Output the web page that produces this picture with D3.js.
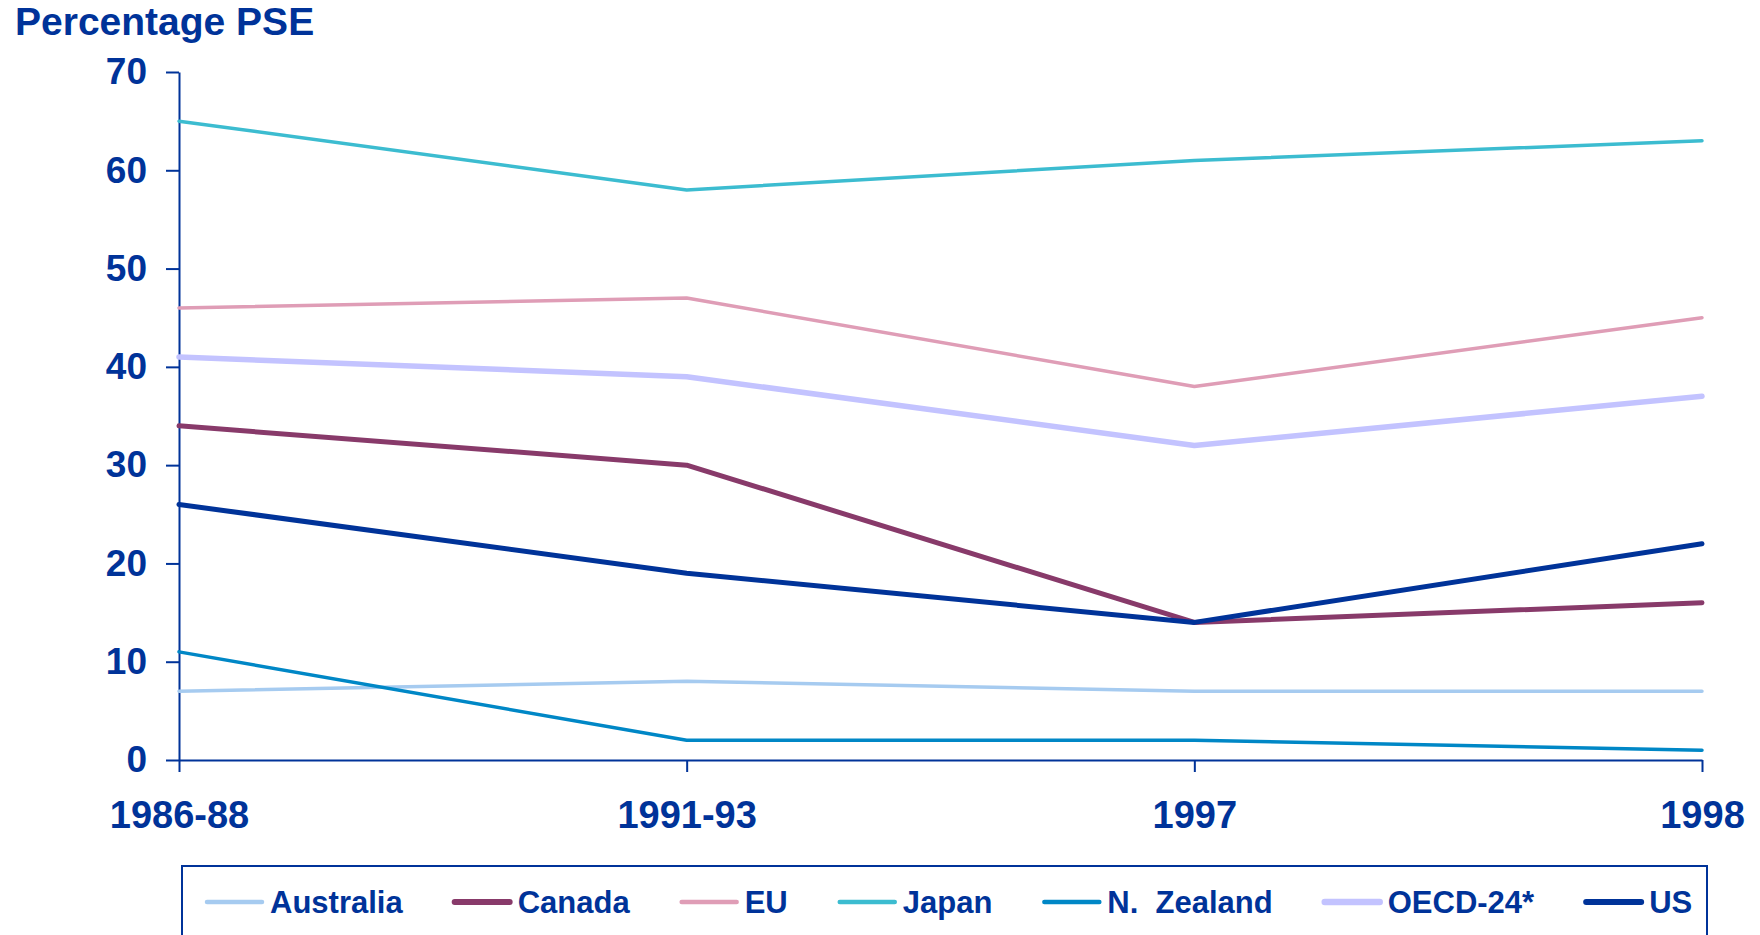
<!DOCTYPE html>
<html>
<head>
<meta charset="utf-8">
<script src="https://cdn.jsdelivr.net/npm/d3@7"></script>
<style>
  html, body { margin: 0; padding: 0; background: #fff; }
  svg { display: block; font-family: "Liberation Sans", Arial, sans-serif; }
</style>
</head>
<body>
<svg id="chart" width="1760" height="935"></svg>
<script>
const categories = ["1986-88", "1991-93", "1997", "1998"];
const seriesNames = ["Australia", "Canada", "EU", "Japan", "N.\u00A0 Zealand", "OECD-24*", "US"];
const australia = [7, 8, 7, 7];
const canada = [34, 30, 14, 16];
const eu = [46, 47, 38, 45];
const japan = [65, 58, 61, 63];
const nZealand = [11, 2, 2, 1];
const oecd24 = [41, 39, 32, 37];
const us = [26, 19, 14, 22];
const yTicks = [0, 10, 20, 30, 40, 50, 60, 70];
const colors = ["#a6cbf0", "#883a6a", "#df9db6", "#3cbcd0", "#0087c6", "#c3c3ff", "#003399"];
const widths = [3.5, 5, 3.5, 3.5, 3.5, 5.5, 5];

const seriesValues = [australia, canada, eu, japan, nZealand, oecd24, us];
const series = seriesNames.map((n, i) => ({ name: n, values: seriesValues[i], color: colors[i], width: widths[i] }));

const ink = "#003399";
const svg = d3.select("#chart");

const x = d3.scalePoint().domain(categories).range([179, 1702]);
const y = d3.scaleLinear().domain([0, 70]).range([760, 72]);

// title
svg.append("text").attr("x", 15).attr("y", 35)
  .attr("font-size", 39).attr("font-weight", "bold").attr("fill", ink)
  .text("Percentage PSE");

// y axis
const yAxis = svg.append("g").attr("transform", `translate(${x.range()[0]},0)`)
  .call(d3.axisLeft(y).tickValues(yTicks).tickSize(13).tickSizeOuter(0).tickPadding(19));
// x axis
const xAxis = svg.append("g").attr("transform", `translate(0,${y(0)})`)
  .call(d3.axisBottom(x).tickSize(12).tickSizeOuter(0).tickPadding(29));

[yAxis, xAxis].forEach(g => {
  g.selectAll("path.domain").attr("stroke", ink).attr("stroke-width", 2);
  g.selectAll(".tick line").attr("stroke", ink).attr("stroke-width", 2);
  g.selectAll(".tick text").attr("fill", ink).attr("font-size", 37)
    .attr("font-weight", "bold").attr("font-family", "Liberation Sans, Arial, sans-serif");
});
xAxis.selectAll(".tick text").attr("font-size", 38);

// lines
const line = d3.line().x((d, i) => x(categories[i])).y(d => y(d));
svg.append("g").selectAll("path").data(series).join("path")
  .attr("d", d => line(d.values))
  .attr("fill", "none")
  .attr("stroke", d => d.color)
  .attr("stroke-width", d => d.width)
  .attr("stroke-linejoin", "round")
  .attr("stroke-linecap", "round");

// legend
svg.append("rect")
  .attr("x", 182).attr("y", 866).attr("width", 1525).attr("height", 100)
  .attr("fill", "none").attr("stroke", ink).attr("stroke-width", 2);

const legend = svg.append("g");
let lx = 207;
const ly = 902;
series.forEach(s => {
  legend.append("line").attr("x1", lx).attr("x2", lx + 55).attr("y1", ly).attr("y2", ly)
    .attr("stroke", s.color).attr("stroke-width", s.width + 1).attr("stroke-linecap", "round");
  const t = legend.append("text").attr("x", lx + 63).attr("y", ly + 11)
    .attr("font-size", 31).attr("font-weight", "bold").attr("fill", ink)
    .text(s.name);
  const w = t.node().getComputedTextLength();
  lx = lx + 63 + w + 52;
});
</script>
</body>
</html>
